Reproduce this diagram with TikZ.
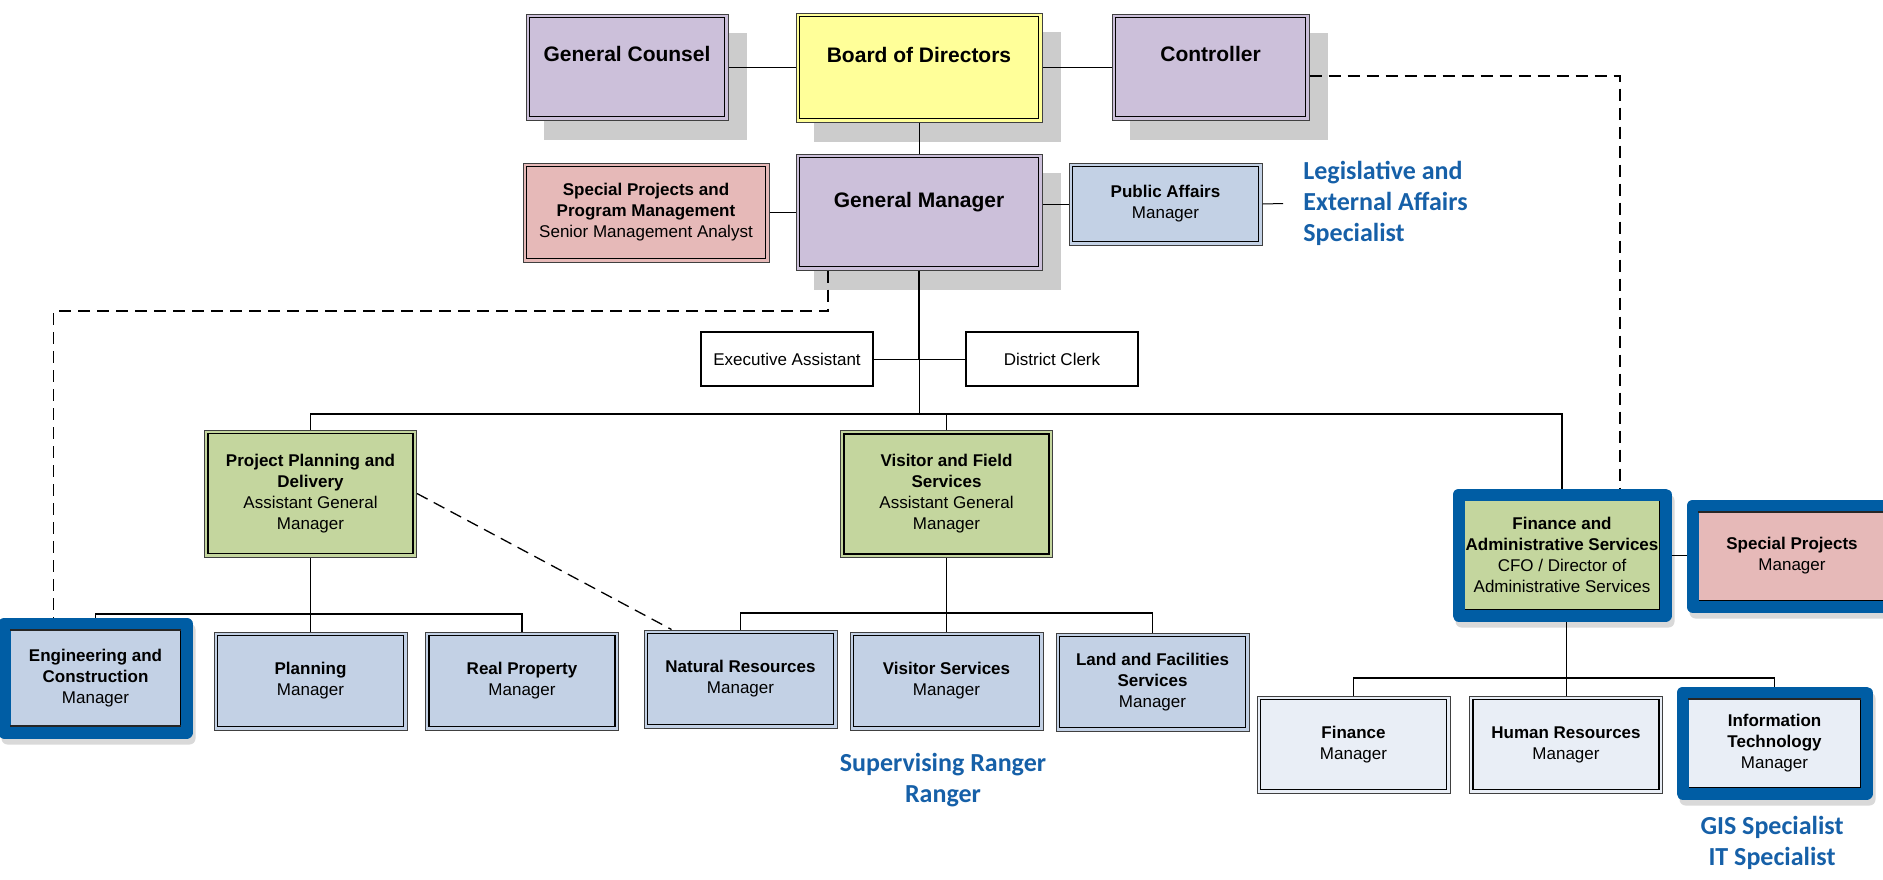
\documentclass[tikz,border=0pt]{standalone}
\usepackage{fontspec}
\setmainfont{Liberation Sans}
\newfontfamily\calibri{Carlito}
\usepackage{xcolor}
\usetikzlibrary{positioning, fit, calc, backgrounds}

\definecolor{purplebox}{HTML}{CCC0DA}
\definecolor{yellowbox}{HTML}{FFFF99}
\definecolor{pinkbox}{HTML}{E6B9B8}
\definecolor{bluebox}{HTML}{C3D1E5}
\definecolor{greenbox}{HTML}{C4D69E}
\definecolor{palebox}{HTML}{E9EEF6}
\definecolor{shadowgray}{HTML}{CCCCCC}
\definecolor{frameblue}{HTML}{005DA4}
\definecolor{labelblue}{HTML}{1660A8}

\tikzset{
  orgbox/.style={draw=black!75, line width=0.5pt, fill=#1, inner sep=1pt, align=center,
    font=\fontsize{8.5}{10.5}\selectfont,
    path picture={\draw[line width=0.8pt, black]
      ([shift={(1.8pt,-1.8pt)}]path picture bounding box.north west) rectangle
      ([shift={(-1.8pt,1.8pt)}]path picture bounding box.south east);}},
  topbox/.style={orgbox=#1, font=\fontsize{10.5}{12}\selectfont\bfseries, text depth=13pt},
  subbox/.style={orgbox=#1, minimum width=96.5pt, minimum height=49pt},
  plainbox/.style={draw=black, line width=0.6pt, fill=white, minimum width=86pt,
    minimum height=27pt, font=\fontsize{8.5}{10.5}\selectfont},
  hilite/.style={draw=frameblue, line width=6pt, line join=round, inner sep=1pt},
  edgeline/.style={line width=0.9pt, black!85},
  note/.style={text=labelblue, font=\calibri\fontsize{13}{15.5}\selectfont\bfseries,
    align=center, inner sep=0pt},
  link/.style={line width=0.5pt},
  busline/.style={line width=0.65pt},
  dashline/.style={line width=0.65pt, dash pattern=on 6pt off 3.5pt}
}

\begin{document}
\begin{tikzpicture}[x=0.5pt, y=-0.5pt]
\clip (0,0) rectangle (1883,879);

% Board level
\node[topbox=purplebox, minimum width=101pt, minimum height=53pt] (gc) at (627,67) {General Counsel};
\node[topbox=yellowbox, minimum width=123pt, minimum height=54.5pt] (bod) at (919,67.5) {Board of Directors};
\node[topbox=purplebox, minimum width=98.5pt, minimum height=53pt] (ctrl) at (1210.5,67) {Controller};

% General Manager and staff
\node[topbox=purplebox, text depth=12pt, minimum width=123pt, minimum height=58pt] (gm) at (919,212) {General Manager};
\node[orgbox=pinkbox, minimum width=123pt, minimum height=49.5pt] (sppm) at (646,212.5)
  {\textbf{Special Projects and}\\\textbf{Program Management}\\Senior Management Analyst};
\node[orgbox=bluebox, minimum width=96.5pt, minimum height=41pt] (pa) at (1165.5,204)
  {\textbf{Public Affairs}\\Manager};
\node[plainbox] (ea) at (787,359) {Executive Assistant};
\node[plainbox] (dc) at (1052,359) {District Clerk};

% Assistant General Managers
\node[orgbox=greenbox, minimum width=106pt, minimum height=63.5pt] (ppd) at (310.5,493.5)
  {\textbf{Project Planning and}\\\textbf{Delivery}\\Assistant General\\Manager};
\node[orgbox=greenbox, minimum width=106pt, minimum height=63.5pt] (vfs) at (946.5,494)
  {\textbf{Visitor and Field}\\\textbf{Services}\\Assistant General\\Manager};
\node[orgbox=greenbox, minimum width=101pt, minimum height=58pt] (fas) at (1562,555)
  {\textbf{Finance and}\\\textbf{Administrative Services}\\CFO / Director of\\Administrative Services};
\node[orgbox=pinkbox, minimum width=97pt, minimum height=48pt] (sp) at (1792,556)
  {\textbf{Special Projects}\\Manager};

% Managers
\node[orgbox=bluebox, minimum width=88.5pt, minimum height=52pt] (eng) at (95.5,678)
  {\textbf{Engineering and}\\\textbf{Construction}\\Manager};
\node[subbox=bluebox] (pl) at (310.5,681) {\textbf{Planning}\\Manager};
\node[subbox=bluebox] (rp) at (522,681) {\textbf{Real Property}\\Manager};
\node[subbox=bluebox] (nr) at (740.5,679) {\textbf{Natural Resources}\\Manager};
\node[subbox=bluebox] (vs) at (946.5,681) {\textbf{Visitor Services}\\Manager};
\node[subbox=bluebox] (lf) at (1152.5,682) {\textbf{Land and Facilities}\\\textbf{Services}\\Manager};
\node[subbox=palebox, minimum height=48.5pt] (fin) at (1353.5,744.5) {\textbf{Finance}\\Manager};
\node[subbox=palebox, minimum height=48.5pt] (hr) at (1566,744.5) {\textbf{Human Resources}\\Manager};
\node[orgbox=palebox, minimum width=89.5pt, minimum height=48pt] (it) at (1774.5,743)
  {\textbf{Information}\\\textbf{Technology}\\Manager};

% Highlight frames
\node[hilite, fit=(eng)] (engf) {};
\node[hilite, fit=(fas)] (fasf) {};
\node[hilite, fit=(sp)] (spf) {};
\node[hilite, fit=(it)] (itf) {};
\foreach \n in {eng,sp,it}
  \draw[edgeline] ([shift={(1.8pt,-2.4pt)}]\n.north west) -- ([shift={(-1.8pt,-2.4pt)}]\n.north east);
\draw[edgeline] ([shift={(1.8pt,2.4pt)}]eng.south west) -- ([shift={(-1.8pt,2.4pt)}]eng.south east);

% Blue notes
\node[note, anchor=west, align=left, inner xsep=10pt] (leg) at (1283,203.5)
  {Legislative and\\External Affairs\\Specialist};
\node[note] (rng) at (943,780.5) {Supervising Ranger\\Ranger};
\node[note] (gis) at (1772,842.5) {GIS Specialist\\IT Specialist};

% Shadows
\begin{scope}[on background layer]
  \foreach \n in {gc,bod,ctrl,gm}
    \fill[shadowgray] ([shift={(9pt,-9.5pt)}]\n.north west) rectangle ([shift={(9pt,-9.5pt)}]\n.south east);
  \foreach \n in {engf,fasf,spf,itf}
    \fill[black!15, rounded corners=3pt] ([shift={(1.5pt,-3pt)}]\n.north west) rectangle ([shift={(1.5pt,-3pt)}]\n.south east);
\end{scope}

% Top connectors
\draw[link] (gc.east) -- (gc.east -| bod.west);
\draw[link] (bod.east) -- (bod.east -| ctrl.west);
\draw[link] (bod.south) -- (gm.north);
\draw[link] (sppm.east) -- (sppm.east -| gm.west);
\draw[link] (pa.west) -- (pa.west -| gm.east);
\draw[link] (pa.east) -- (leg.west);
\draw[dashline] ([yshift=-4.5pt]ctrl.east) -| ([xshift=29pt]fasf.north);

% Staff and main bus
\coordinate (bus) at (919,414);
\draw[line width=1pt] (gm.south) -- (gm.south |- ea.east);
\draw[link] (ea.east) -- (dc.west);
\draw[link] (gm.south |- ea.east) -- (bus);
\draw[busline] (ppd.north) |- (bus) -| (fasf.north);
\draw[link] (vfs.north) -- (vfs.north |- bus);
\coordinate (gmturn) at (828,311);
\draw[dashline] ([xshift=-45.5pt]gm.south) -- (gmturn) -| ([xshift=-21pt]engf.north);

% Project Planning branch
\coordinate (ppdbus) at (310.5,614);
\draw[link] (ppd.south) -- (pl.north);
\draw[busline] (engf.north) |- (ppdbus) -| (rp.north);
\draw[dashline] (ppd.east) -- ([xshift=14pt]nr.north west);

% Visitor and Field branch
\coordinate (vfsbus) at (946.5,613);
\draw[link] (vfs.south) -- (vs.north);
\draw[busline] (nr.north) |- (vfsbus) -| (lf.north);

% Finance branch
\coordinate (fasbus) at (1566,678);
\draw[link] (fasf.east) -- (fasf.east -| spf.west);
\draw[link] (hr.north) -- (hr.north |- fasf.south);
\draw[busline] (fin.north) |- (fasbus) -| (itf.north);
\end{tikzpicture}
\end{document}
